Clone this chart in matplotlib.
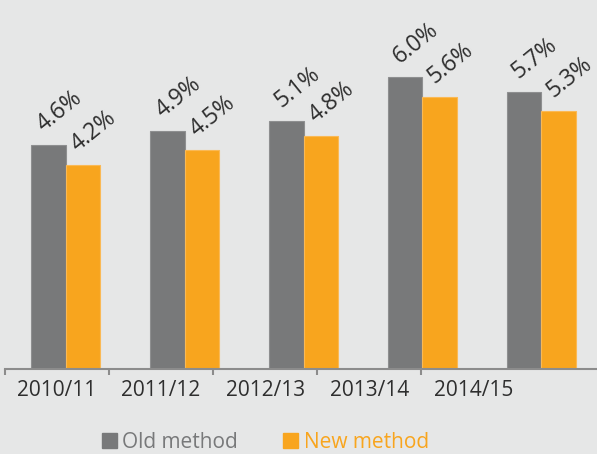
import matplotlib
matplotlib.use("Agg")
import matplotlib.pyplot as plt
from matplotlib.patches import Patch

# Data
years = ['2010/11', '2011/12', '2012/13', '2013/14', '2014/15']
old_method = [4.6, 4.9, 5.1, 6.0, 5.7]
new_method = [4.2, 4.5, 4.8, 5.6, 5.3]

bg = '#E6E7E7'
grey = '#78797A'
orange = '#F8A51E'
axis_grey = '#8C8C8C'
text_dark = '#2E2E2E'

plt.rcParams['font.family'] = ['Open Sans', 'DejaVu Sans']

fig = plt.figure(figsize=(5.97, 4.54), dpi=100, facecolor=bg)
ax = fig.add_axes([5 / 597, 85 / 454, 592 / 597, 369 / 454])
ax.set_facecolor(bg)

w = 0.29
x = list(range(len(years)))
b1 = ax.bar([i - w / 2 for i in x], old_method, w, color=grey, edgecolor='#8E8F90', linewidth=0.8)
b2 = ax.bar([i + w / 2 for i in x], new_method, w, color=orange, edgecolor='#FAB955', linewidth=0.8)

# Value labels, rotated
for bars, vals in [(b1, old_method), (b2, new_method)]:
    for r, v in zip(bars, vals):
        ax.annotate(f'{v:.1f}%', (r.get_x(), v), xytext=(12, 13), textcoords='offset pixels',
                    rotation=39, rotation_mode='anchor', ha='left', va='baseline',
                    fontsize=16.5, color=text_dark)

ax.set_xlim(-0.513, 4.47)
ax.set_ylim(0, 7.59)
for s in ['top', 'left', 'right']:
    ax.spines[s].set_visible(False)
ax.spines['bottom'].set_color(axis_grey)
ax.spines['bottom'].set_linewidth(1.5)
ax.set_xticks([])
ax.set_yticks([])

# Category axis
ax2 = ax.twiny()
ax2.set_xlim(-0.5, 5.19)
ax2.xaxis.tick_bottom()
ax2.set_xticks(range(len(years)))
ax2.set_xticklabels(years, fontsize=15, color=text_dark)
ax2.set_xticks([i - 0.5 for i in range(len(years))], minor=True)
ax2.tick_params(axis='x', which='major', length=0, pad=8)
ax2.tick_params(axis='x', which='minor', length=4.3, width=1.5, color=axis_grey)
for s in ax2.spines.values():
    s.set_visible(False)

# Legend
handles = [Patch(color=grey, label='Old method'), Patch(color=orange, label='New method')]
leg = fig.legend(handles=handles, loc='center', bbox_to_anchor=(0.444, 0.026), ncol=2,
                 frameon=False, fontsize=15, handlelength=0.72, handleheight=0.72,
                 handletextpad=0.25, columnspacing=2.2, borderpad=0)
for t, c in zip(leg.get_texts(), [grey, orange]):
    t.set_color(c)

plt.savefig('out.png', dpi=100, facecolor=bg)
